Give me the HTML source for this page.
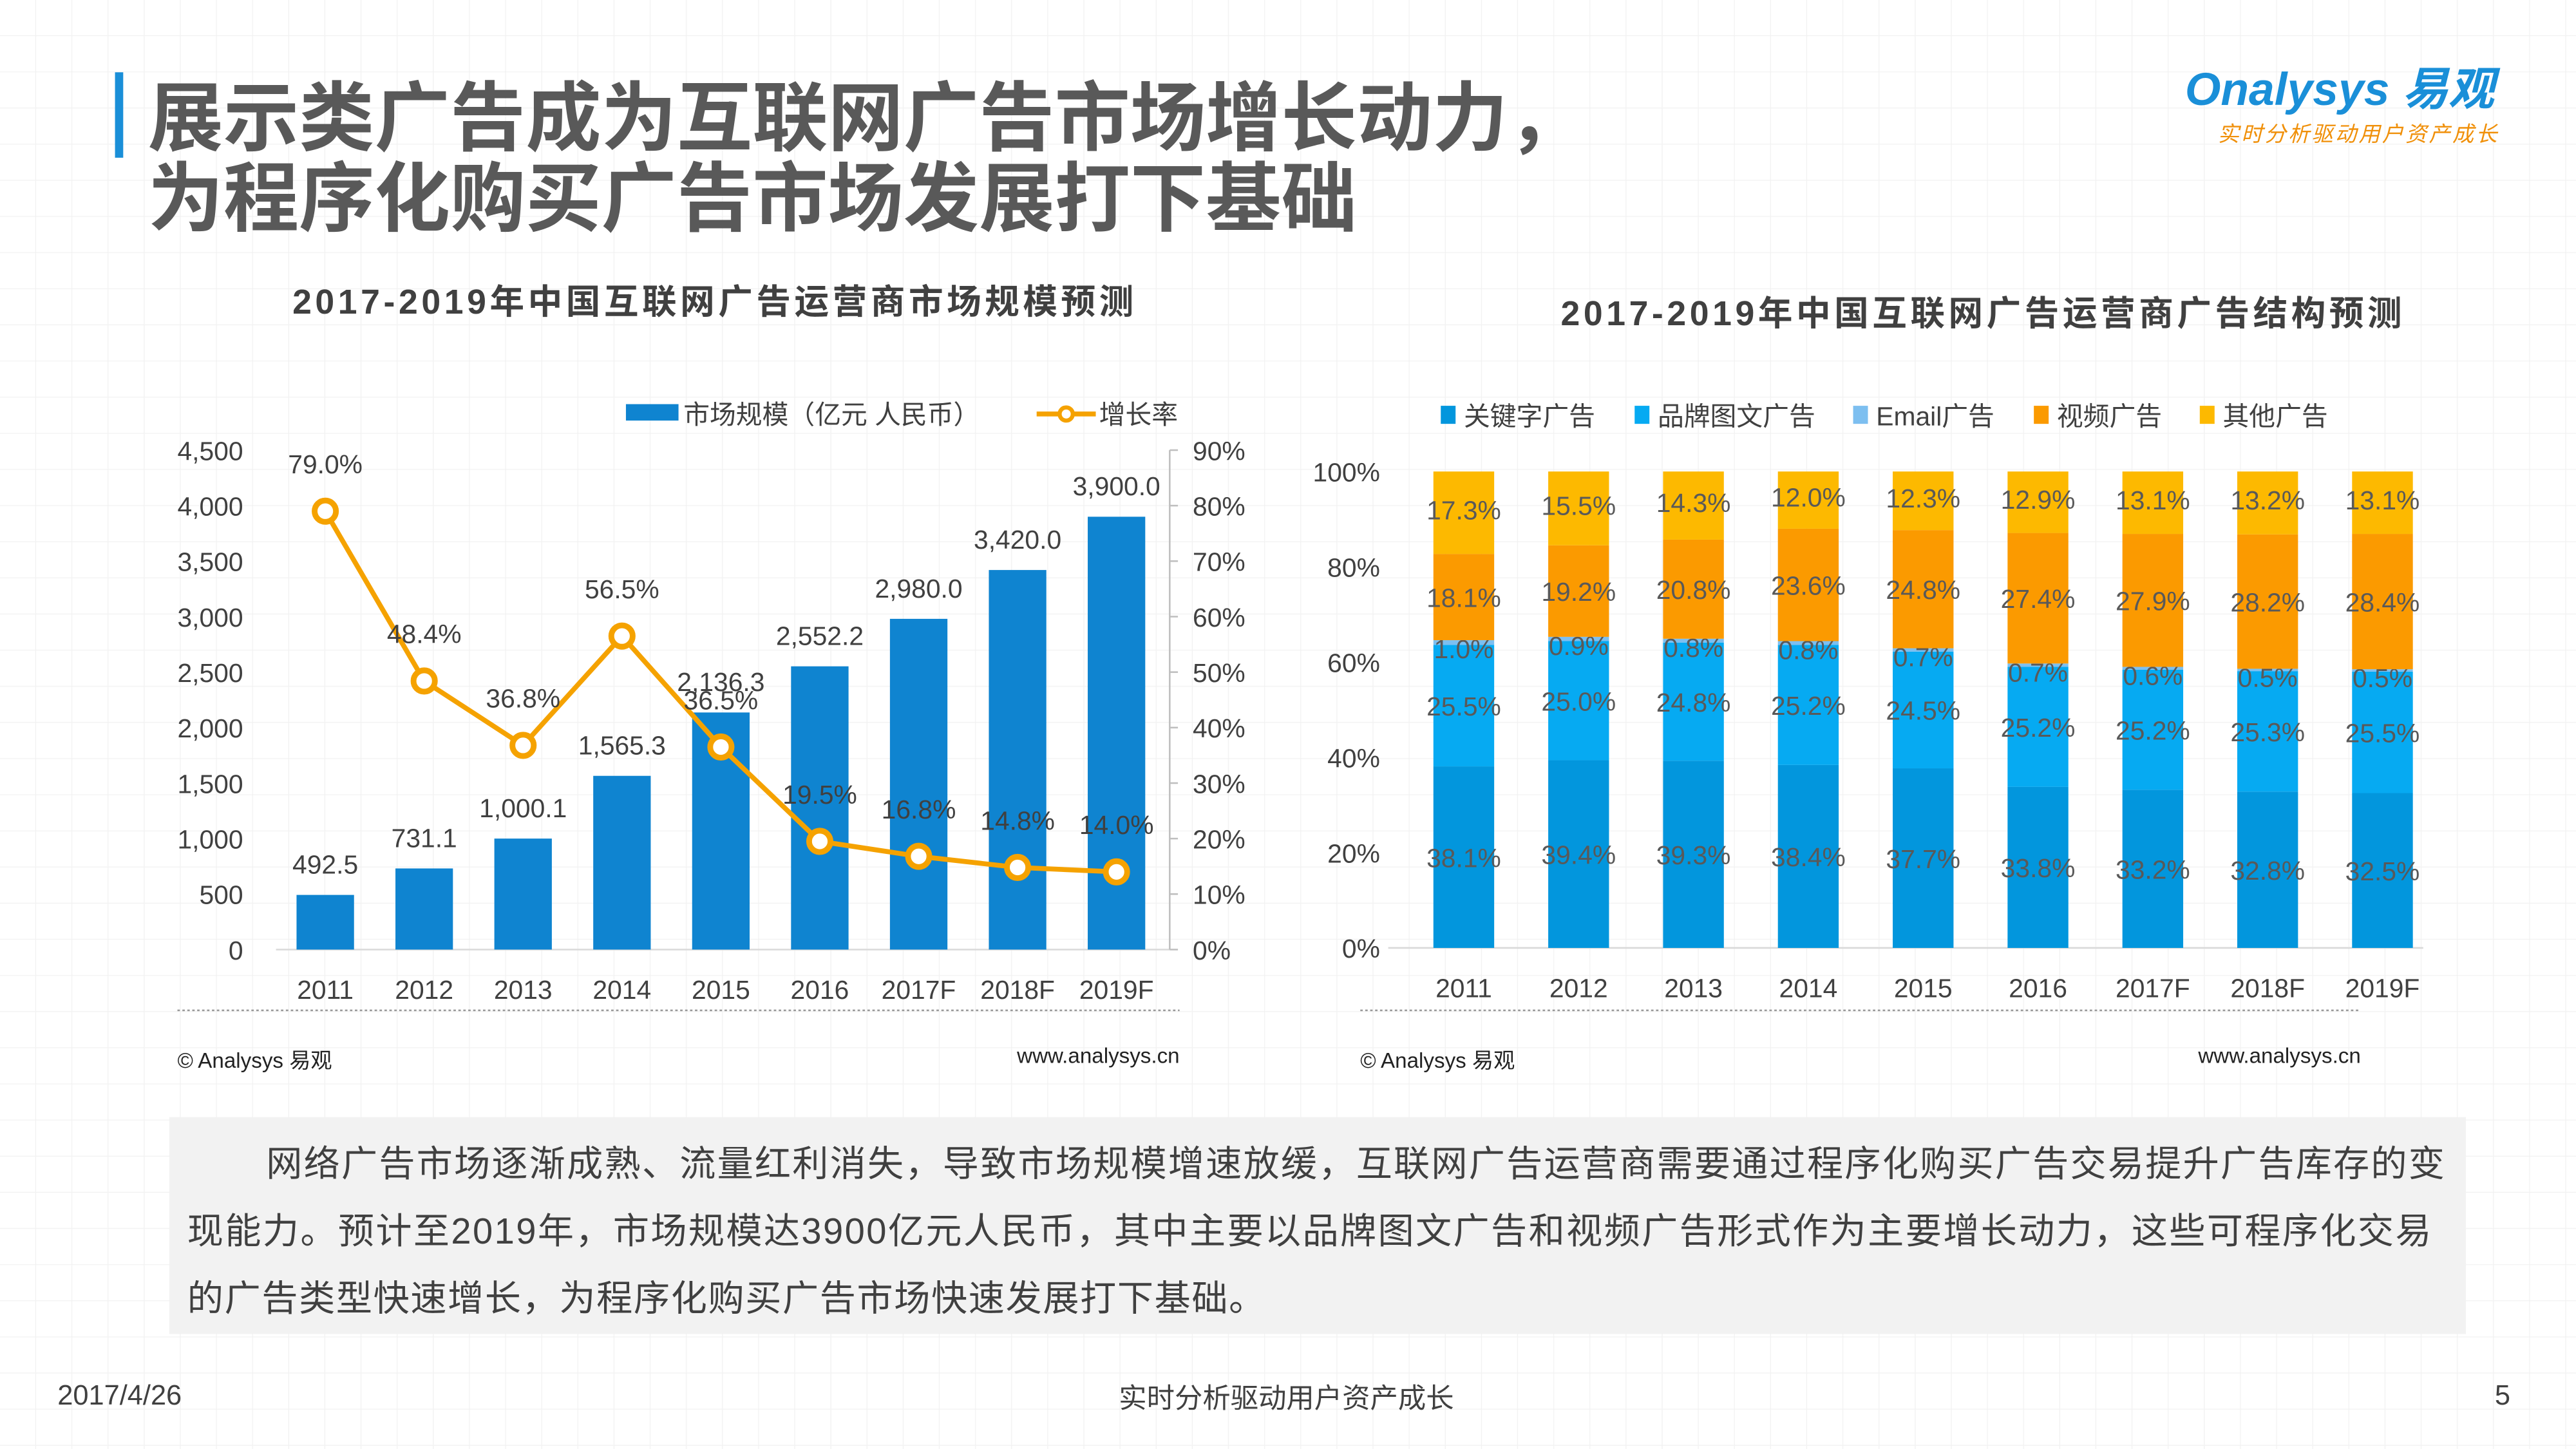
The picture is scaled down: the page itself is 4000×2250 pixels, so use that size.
<!DOCTYPE html>
<html><head><meta charset="utf-8"><style>
html,body{margin:0;padding:0;background:#fff}
svg{display:block}
text{font-family:"Liberation Sans","Noto Sans CJK SC",sans-serif}
</style></head><body>
<svg id="s" width="4000" height="2250" viewBox="0 0 1568 882" preserveAspectRatio="none" xmlns="http://www.w3.org/2000/svg">
<defs><pattern id="grid" width="22" height="22" patternUnits="userSpaceOnUse"><path d="M22 0V22H0" fill="none" stroke="#ececec" stroke-width="1"/></pattern></defs>
<rect width="1568" height="882" fill="#fff"/>
<rect width="1568" height="882" fill="url(#grid)" opacity="0.7"/>
<rect x="70" y="44" width="5" height="52" fill="#1a8fd8"/>
<text x="90" y="88" font-size="46" font-weight="bold" fill="#595959">展示类广告成为互联网广告市场增长动力，</text>
<text x="90" y="137" font-size="46" font-weight="bold" fill="#595959">为程序化购买广告市场发展打下基础</text>
<g>
<text x="1330" y="64" font-size="28" font-style="italic" font-weight="bold" fill="#1a8fd8">Onalysys 易观</text>
<text x="1350" y="86" font-size="13" fill="#f0900a" font-style="italic" textLength="170">实时分析驱动用户资产成长</text>
</g>
<text x="178" y="191" font-size="21" font-weight="bold" fill="#404040" textLength="512">2017-2019年中国互联网广告运营商市场规模预测</text>
<text x="950" y="198" font-size="21" font-weight="bold" fill="#404040" textLength="512">2017-2019年中国互联网广告运营商广告结构预测</text>
<g id="left"></g>
<g id="right"></g>
<line x1="108" y1="615" x2="718" y2="615" stroke="#999" stroke-dasharray="1.5 1.5"/>
<line x1="828" y1="615" x2="1437" y2="615" stroke="#999" stroke-dasharray="1.5 1.5"/>
<text x="108" y="650" font-size="13" fill="#222">© Analysys 易观</text>
<text x="718" y="647" font-size="13" fill="#222" text-anchor="end">www.analysys.cn</text>
<text x="828" y="650" font-size="13" fill="#222">© Analysys 易观</text>
<text x="1437" y="647" font-size="13" fill="#222" text-anchor="end">www.analysys.cn</text>
<rect x="103" y="680" width="1398" height="132" fill="#f2f2f2"/>
<g font-size="22" fill="#404040">
<text x="162" y="716" textLength="1326">网络广告市场逐渐成熟、流量红利消失，导致市场规模增速放缓，互联网广告运营商需要通过程序化购买广告交易提升广告库存的变</text>
<text x="114" y="757" textLength="1366">现能力。预计至2019年，市场规模达3900亿元人民币，其中主要以品牌图文广告和视频广告形式作为主要增长动力，这些可程序化交易</text>
<text x="114" y="798" textLength="656">的广告类型快速增长，为程序化购买广告市场快速发展打下基础。</text>
</g>
<text x="35" y="855" font-size="17" fill="#404040">2017/4/26</text>
<text x="783" y="857" font-size="17" fill="#404040" text-anchor="middle">实时分析驱动用户资产成长</text>
<text x="1528" y="855" font-size="17" fill="#404040" text-anchor="end">5</text>
</svg>
<script>
const years=["2011","2012","2013","2014","2015","2016","2017F","2018F","2019F"];
const marketSize=[492.5,731.1,1000.1,1565.3,2136.3,2552.2,2980.0,3420.0,3900.0];
const growth=[79.0,48.4,36.8,56.5,36.5,19.5,16.8,14.8,14.0];
const leftTicks=[0,500,1000,1500,2000,2500,3000,3500,4000,4500];
const rightTicks=[0,10,20,30,40,50,60,70,80,90];
const keyword=[38.1,39.4,39.3,38.4,37.7,33.8,33.2,32.8,32.5];
const brand=[25.5,25.0,24.8,25.2,24.5,25.2,25.2,25.3,25.5];
const email=[1.0,0.9,0.8,0.8,0.7,0.7,0.6,0.5,0.5];
const video=[18.1,19.2,20.8,23.6,24.8,27.4,27.9,28.2,28.4];
const other=[17.3,15.5,14.3,12.0,12.3,12.9,13.1,13.2,13.1];
const pctTicks=[0,20,40,60,80,100];
const NS="http://www.w3.org/2000/svg";
function mk(p,t,a,txt){const e=document.createElementNS(NS,t);for(const k in a)e.setAttribute(k,a[k]);if(txt!==undefined)e.textContent=txt;p.appendChild(e);return e;}
const L=document.getElementById('left');
const lx=i=>198+i*60.2, ly=v=>578-v/4500*304, ry=v=>578-v/90*304;
mk(L,'line',{x1:168,y1:578,x2:712,y2:578,stroke:'#d9d9d9'});
mk(L,'line',{x1:712,y1:274,x2:712,y2:578,stroke:'#bfbfbf'});
leftTicks.forEach(t=>{const e=mk(L,'text',{x:148,y:ly(t)+6,'font-size':16,fill:'#404040','text-anchor':'end'},t.toLocaleString('en-US'));

});
rightTicks.forEach(t=>{mk(L,'line',{x1:712,y1:ry(t),x2:717,y2:ry(t),stroke:'#bfbfbf'});const e=mk(L,'text',{x:726,y:ry(t)+6,'font-size':16,fill:'#404040'},t+'%');

});
years.forEach((y,i)=>{const b=mk(L,'rect',{x:lx(i)-17.5,y:ly(marketSize[i]),width:35,height:578-ly(marketSize[i]),fill:'#0f84d0'});


const v=mk(L,'text',{x:lx(i),y:ly(marketSize[i])-13,'font-size':16,fill:'#404040','text-anchor':'middle'},marketSize[i].toLocaleString('en-US',{minimumFractionDigits:1}));


const xl=mk(L,'text',{x:lx(i),y:608,'font-size':16,fill:'#404040','text-anchor':'middle'},y);

});
const pl=mk(L,'polyline',{points:growth.map((g,i)=>lx(i)+','+ry(g)).join(' '),fill:'none',stroke:'#f5a200','stroke-width':3});


growth.forEach((g,i)=>{const c=mk(L,'circle',{cx:lx(i),cy:ry(g),r:6.5,fill:'#fff',stroke:'#f5a200','stroke-width':3.5});


const t=mk(L,'text',{x:lx(i),y:ry(g)-23,'font-size':16,fill:'#404040','text-anchor':'middle'},g.toFixed(1)+'%');

});
const lg1=mk(L,'rect',{x:381,y:246,width:32,height:10,fill:'#0f84d0'});


mk(L,'text',{x:416,y:258,'font-size':16,fill:'#404040'},'市场规模（亿元 人民币）');
const lg2=mk(L,'line',{x1:631,y1:252,x2:667,y2:252,stroke:'#f5a200','stroke-width':3});


mk(L,'circle',{cx:649,cy:252,r:4,fill:'#fff',stroke:'#f5a200','stroke-width':2.5});
mk(L,'text',{x:669,y:258,'font-size':16,fill:'#404040'},'增长率');
const R=document.getElementById('right');
const rx=i=>891+i*69.9, py=v=>577-v/100*290;
mk(R,'line',{x1:845,y1:577,x2:1475,y2:577,stroke:'#d9d9d9'});
pctTicks.forEach(t=>{const e=mk(R,'text',{x:840,y:py(t)+6,'font-size':16,fill:'#404040','text-anchor':'end'},t+'%');

});
const series=[[keyword,'#0296dd','keyword'],[brand,'#06aaf2','brand'],[email,'#7dbff0','email'],[video,'#fb9a00','video'],[other,'#fdb900','other']];
years.forEach((y,i)=>{let acc=0;series.forEach((s,k)=>{const v=s[0][i];const r=mk(R,'rect',{x:rx(i)-18.5,y:py(acc+v),width:37,height:py(acc)-py(acc+v),fill:s[1]});


let ty=k===2?py(acc+v)+11:py(acc+v/2)+6; if(k===4)ty=py(acc+v/2)+4;
const t=mk(R,'text',{x:rx(i),y:ty,'font-size':16,fill:'#595959','text-anchor':'middle'},v.toFixed(1)+'%');


acc+=v;});
const xl=mk(R,'text',{x:rx(i),y:607,'font-size':16,fill:'#404040','text-anchor':'middle'},y);

});
const names=['关键字广告','品牌图文广告','Email广告','视频广告','其他广告'];const lxs=[877,995,1128,1238,1339];
series.forEach((s,k)=>{const r=mk(R,'rect',{x:lxs[k],y:247,width:9,height:11,fill:s[1]});


mk(R,'text',{x:lxs[k]+14,y:259,'font-size':16,fill:'#404040'},names[k]);});
</script>
</body></html>
